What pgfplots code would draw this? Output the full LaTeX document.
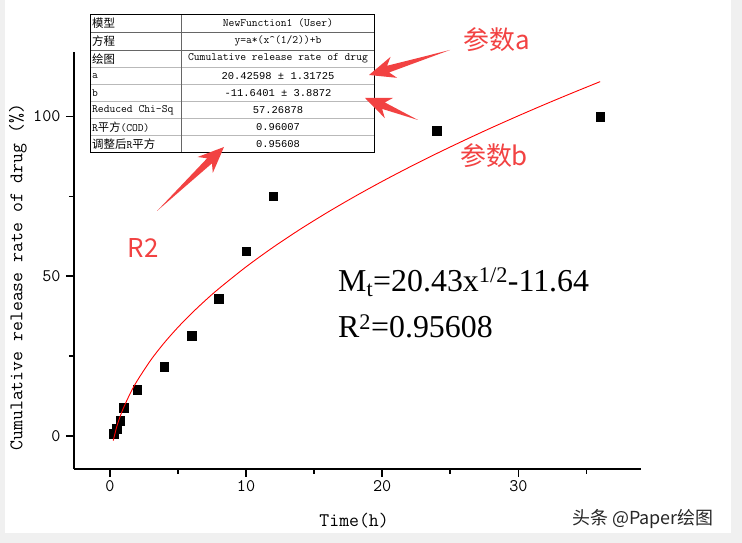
\documentclass[border=0pt]{standalone}
\usepackage{fontspec}
\usepackage{pgfplots}
\pgfplotsset{compat=1.18}
\usetikzlibrary{calc}
\setmainfont{Liberation Serif}
\newfontfamily\tmono{Liberation Mono}
\newfontfamily\cjk{Noto Sans CJK SC}
\definecolor{anno}{RGB}{242,66,66}
\definecolor{framegray}{RGB}{240,240,240}

% tapered red arrow: tail, tip
\newcommand\fatarrow[2]{%
  \fill[anno] (#2) -- ($(#2)!26bp!(#1)!11bp!90:(#1)$) -- ($(#2)!20bp!(#1)!3.5bp!90:(#1)$)
    -- (#1) -- ($(#2)!20bp!(#1)!3.5bp!-90:(#1)$) -- ($(#2)!26bp!(#1)!11bp!-90:(#1)$) -- cycle;}

\pgfplotsset{frame/.style={
    at={(0,0)}, anchor=south west,
    scale only axis, width=567bp, height=417bp,
    xmin=-2.63, xmax=39, ymin=-10.3, ymax=120.2, clip=false}}

\begin{document}
\begin{tikzpicture}
\begin{scope}[x=1bp,y=1bp,xshift=-74bp,yshift=-74bp]
\fill[framegray] (0,0) rectangle (742,543);
\fill[white] (5,10) rectangle (731,543);
\path[use as bounding box] (0,0) rectangle (742,543);
\end{scope}

\begin{axis}[
    frame,
    axis x line*=bottom, axis y line*=left,
    axis line style={-, line width=1.8bp},
    xtick={0,10,20,30}, minor xtick={5,15,25,35},
    ytick={0,50,100}, minor ytick={25,75},
    tick align=outside,
    major tick length=8bp, minor tick length=5bp,
    tick style={black, line width=1.8bp},
    ticklabel style={font=\ttfamily\fontsize{17.7}{18}\selectfont},
    yticklabel style={xshift=-2bp},
    /pgf/number format/assume math mode=true,
    xlabel={Time(h)},
    ylabel={Cumulative release rate of drug (\%)},
    label style={font=\ttfamily\fontsize{19.3}{20}\selectfont},
    xlabel style={at={(axis description cs:0.494,-0.1247)}, anchor=center},
    ylabel style={at={(axis description cs:-0.0988,0.46)}, anchor=center},
]
\addplot[only marks, mark=square*, mark size=4.3bp, black] coordinates {
    (0.3,0.8) (0.5,2.3) (0.75,4.8) (1,8.9) (2,14.5) (4,21.8)
    (6,31.4) (8,43.0) (10,57.9) (12,75.1) (24,95.6) (36,100)
};
\end{axis}

% fitted curve on top of the markers
\begin{axis}[frame, hide axis]
\addplot[red, line width=0.9bp, smooth] coordinates {
    (0.25,-1.43) (0.5,2.80) (0.75,6.05) (1,8.79) (1.5,13.38) (2,17.25)
    (3,23.74) (4,29.21) (5,34.03) (6,38.39) (7,42.40) (8,46.13)
    (10,52.95) (12,59.12) (14,64.79) (16,70.06) (18,75.02) (20,79.71)
    (22,84.17) (24,88.43) (26,92.51) (28,96.45) (30,100.24) (32,103.91)
    (34,107.46) (36,110.92)
};
\end{axis}

\begin{scope}[x=1bp,y=1bp,xshift=-74bp,yshift=-74bp]
% fit report table
\fill[white] (90.7,390.3) rectangle (374,528.7);
\foreach \yy in {475.9,458.7,441.7,424.7,407.7} \draw[gray!55, line width=0.8bp] (90.7,\yy) -- (374,\yy);
\foreach \yy in {510.3,493} \draw[gray!80!black, line width=0.8bp] (90.7,\yy) -- (374,\yy);
\draw[gray!80!black, line width=0.8bp] (181.7,390.3) -- (181.7,528.7);
\draw[black, line width=1bp] (90.7,390.3) rectangle (374,528.7);
\begin{scope}[every node/.style={inner sep=0pt}]
\node[anchor=west] at (92,519.5) {\cjk\fontsize{11.5}{12}\selectfont 模型};
\node[anchor=west] at (92,501.7) {\cjk\fontsize{11.5}{12}\selectfont 方程};
\node[anchor=west] at (92,484.3) {\cjk\fontsize{11.5}{12}\selectfont 绘图};
\node[anchor=west] at (92,467.3) {\ttfamily\fontsize{11.3}{12}\selectfont a};
\node[anchor=west] at (92,450.3) {\ttfamily\fontsize{11.3}{12}\selectfont b};
\node[anchor=west] at (92,433.2) {\ttfamily\fontsize{11.3}{12}\selectfont Reduced Chi-Sq};
\node[anchor=west] at (92,416.2) {\fontsize{11.3}{12}\selectfont{\ttfamily R}{\cjk 平方}{\ttfamily (COD)}};
\node[anchor=west] at (92,399) {\fontsize{11.5}{12}\selectfont{\cjk 调整后}{\ttfamily R}{\cjk 平方}};
\node at (278,519.5) {\ttfamily\fontsize{11.3}{12}\selectfont NewFunction1 (User)};
\node at (278,501.7) {\ttfamily\fontsize{11.3}{12}\selectfont y=a*(x\textasciicircum(1/2))+b};
\node at (278,484.3) {\ttfamily\fontsize{11.3}{12}\selectfont Cumulative release rate of drug};
\node at (278,467.3) {\tmono\fontsize{10.5}{11}\selectfont 20.42598 ± 1.31725};
\node at (278,450.3) {\tmono\fontsize{10.5}{11}\selectfont -11.6401 ± 3.8872};
\node at (278,433.2) {\tmono\fontsize{10.5}{11}\selectfont 57.26878};
\node at (278,416.2) {\tmono\fontsize{10.5}{11}\selectfont 0.96007};
\node at (278,399) {\tmono\fontsize{10.5}{11}\selectfont 0.95608};
\end{scope}

% equation text
\node[anchor=base west, inner sep=0pt, font=\fontsize{32}{32}\selectfont] at (338,251) {M\textsubscript{t}=20.43x\textsuperscript{1/2}-11.64};
\node[anchor=base west, inner sep=0pt, font=\fontsize{32}{32}\selectfont] at (338,205) {R\textsuperscript{2}=0.95608};

% annotations
\node[anno, font=\cjk\fontsize{26}{26}\selectfont] at (497,503) {参数a};
\node[anno, font=\cjk\fontsize{26}{26}\selectfont] at (494,387) {参数b};
\node[anno, font=\cjk\fontsize{26}{26}\selectfont] at (143,295) {R2};
\fatarrow{450,493}{369,468}
\fatarrow{418,423}{365,445}
\fatarrow{157,332}{224,396}

% watermark
\node[anchor=west, inner sep=0pt, gray!30!black, font=\cjk\fontsize{18}{18}\selectfont] at (572,24) {头条 @Paper绘图};
\end{scope}
\end{tikzpicture}
\end{document}
